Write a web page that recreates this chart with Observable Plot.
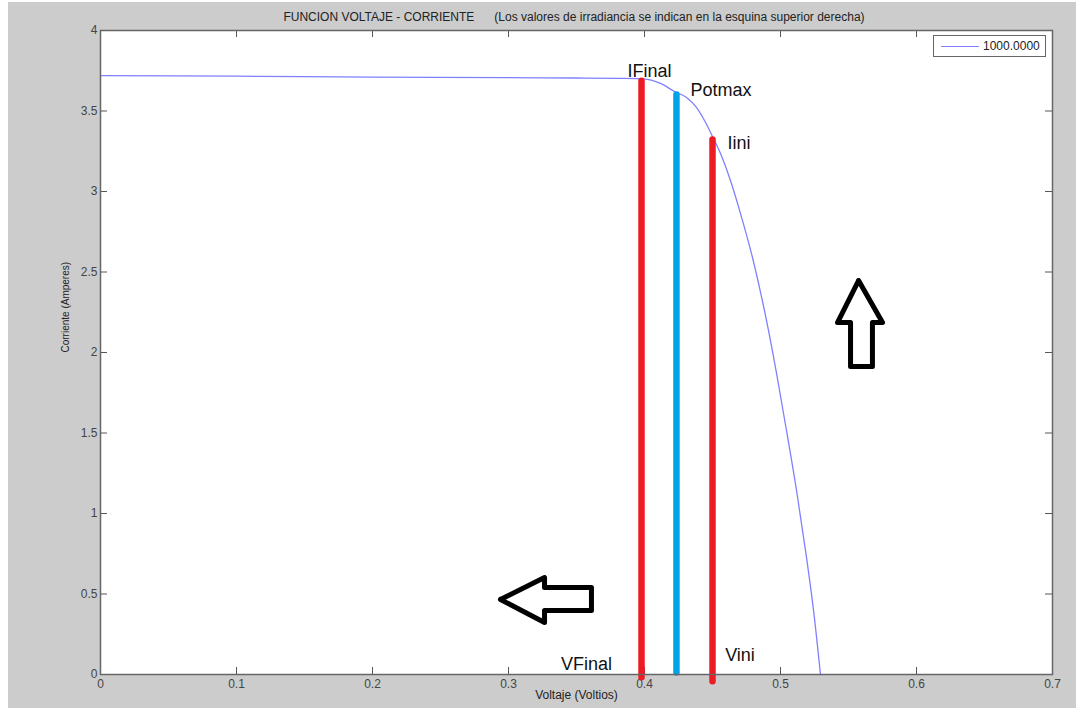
<!DOCTYPE html>
<html>
<head>
<meta charset="utf-8">
<script src="https://cdn.jsdelivr.net/npm/d3@7"></script>
<script src="https://cdn.jsdelivr.net/npm/@observablehq/plot@0.6"></script>
<style>
  body { margin: 0; background: #fff; }
  #wrap { position: relative; width: 1076px; height: 708px; background: #fff; overflow: hidden;
          font-family: "Liberation Sans", Arial, sans-serif; }
  #panel { position: absolute; left: 8px; top: 2px; right: 0; bottom: 0; background: #cccccc; }
  #title { position: absolute; top: 10px; left: 574px; transform: translateX(-50%);
           font-size: 12px; color: #222; white-space: pre; }
  #chart { position: absolute; left: 0; top: 24px; }
  #legend { position: absolute; left: 933px; top: 35px; width: 111px; height: 20px;
            background: #fff; border: 1px solid #666; }
  #legend .sw { position: absolute; left: 7px; top: 10px; width: 38px; height: 0;
                border-top: 1.5px solid #8080ff; }
  #legend .lb { position: absolute; left: 49px; top: 3px; font-size: 12px; color: #222; }
</style>
</head>
<body>
<div id="wrap">
  <div id="panel"></div>
  <div id="title"></div>
  <div id="chart"></div>
  <div id="legend"><div class="sw"></div><div class="lb"></div></div>
</div>
<script>
// ---- data ----
const titleText = "FUNCION VOLTAJE - CORRIENTE      (Los valores de irradiancia se indican en la esquina superior derecha)";
const xLabel = "Voltaje (Voltios)";
const yLabel = "Corriente (Amperes)";
const legendLabel = "1000.0000";

const xTicks = [0, 0.1, 0.2, 0.3, 0.4, 0.5, 0.6, 0.7];
const yTicks = [0, 0.5, 1, 1.5, 2, 2.5, 3, 3.5, 4];

// I-V curve (irradiance 1000)
const voltage = [0, 0.1, 0.2, 0.3, 0.35, 0.38, 0.3993, 0.4118, 0.4221, 0.4309, 0.4382, 0.4441, 0.45, 0.4559, 0.4632, 0.4706, 0.4794, 0.4897, 0.4971, 0.5044, 0.5118, 0.5184, 0.5243, 0.5294];
const current = [3.72, 3.716, 3.711, 3.707, 3.705, 3.703, 3.700, 3.671, 3.621, 3.584, 3.522, 3.441, 3.342, 3.236, 3.068, 2.863, 2.590, 2.199, 1.870, 1.516, 1.143, 0.770, 0.398, 0];

// vertical markers
const markerV = [0.3978, 0.4235, 0.45];
const markerTop = [3.685, 3.60, 3.32];
const markerBottom = [-0.02, 0.01, -0.045];
const markerColor = ["#ed1c24", "#00a2e8", "#ed1c24"];

// annotation labels
const labelText = ["IFinal", "Potmax", "Iini", "VFinal", "Vini"];
const labelV = [0.3875, 0.4338, 0.461, 0.3386, 0.4593];
const labelI = [3.744, 3.632, 3.297, 0.061, 0.117];

// outlined arrows (polygon vertices)
const leftArrowV = [0.2941, 0.3265, 0.3265, 0.3610, 0.3610, 0.3265, 0.3265, 0.2941];
const leftArrowI = [0.466, 0.602, 0.540, 0.540, 0.398, 0.398, 0.323, 0.466];
const upArrowV = [0.5574, 0.5750, 0.5676, 0.5676, 0.5515, 0.5515, 0.5419, 0.5574];
const upArrowI = [2.447, 2.186, 2.186, 1.913, 1.913, 2.186, 2.186, 2.447];

// ---- build tables ----
const curveData = voltage.map((v, i) => ({V: v, I: current[i]}));
const markers = markerV.map((v, i) => ({V: v, top: markerTop[i], bottom: markerBottom[i], color: markerColor[i]}));
const labels = labelText.map((t, i) => ({text: t, V: labelV[i], I: labelI[i]}));
const arrows = [
  ...leftArrowV.map((v, i) => ({shape: "left", V: v, I: leftArrowI[i]})),
  ...upArrowV.map((v, i) => ({shape: "up", V: v, I: upArrowI[i]}))
];

const W = 1076, H = 684, mL = 100, mR = 24, mT = 6, mB = 34;
const plotW = W - mL - mR, plotH = H - mT - mB;
const tickLen = 7;
const innerX = xTicks.slice(1, -1), innerY = yTicks.slice(1, -1);
const font = "Liberation Sans, Arial, sans-serif";

const chart = Plot.plot({
  width: W, height: H,
  marginLeft: mL, marginRight: mR, marginTop: mT, marginBottom: mB,
  x: {domain: [0, 0.7]},
  y: {domain: [0, 4]},
  color: {type: "identity"},
  style: {background: "transparent", overflow: "visible", fontFamily: font},
  marks: [
    Plot.frame({fill: "white"}),
    Plot.ruleX(innerX, {x: d => d, insetTop: plotH - tickLen, stroke: "#555"}),
    Plot.ruleX(innerX, {x: d => d, insetBottom: plotH - tickLen, stroke: "#555"}),
    Plot.ruleY(innerY, {y: d => d, insetRight: plotW - tickLen, stroke: "#555"}),
    Plot.ruleY(innerY, {y: d => d, insetLeft: plotW - tickLen, stroke: "#555"}),
    Plot.axisX({ticks: xTicks, tickSize: 0, tickPadding: 5, tickFormat: d => String(d), fontSize: 12, color: "#444", label: null}),
    Plot.axisY({ticks: yTicks, tickSize: 0, tickPadding: 3, tickFormat: d => String(d), fontSize: 12, color: "#444", label: null}),
    Plot.text([xLabel], {text: d => d, frameAnchor: "bottom", dy: 24, fontSize: 12, fill: "#222"}),
    Plot.text([yLabel], {text: d => d, frameAnchor: "left", dx: -35, rotate: -90, fontSize: 10, fill: "#222"}),
    Plot.line(curveData, {x: "V", y: "I", stroke: "#8080ff", strokeWidth: 1.3, curve: "monotone-x"}),
    Plot.ruleX(markers, {x: "V", y1: "bottom", y2: "top", stroke: "color", strokeWidth: 6.5, strokeLinecap: "round"}),
    Plot.text(labels, {x: "V", y: "I", text: "text", textAnchor: "start", fontSize: 18, fill: "#111"}),
    Plot.line(arrows, {x: "V", y: "I", z: "shape", stroke: "#000", strokeWidth: 5, strokeLinejoin: "round", strokeLinecap: "round"}),
    Plot.frame({stroke: "#666", strokeWidth: 1.5})
  ]
});

document.getElementById("chart").appendChild(chart);
document.getElementById("title").textContent = titleText;
document.querySelector("#legend .lb").textContent = legendLabel;
</script>
</body>
</html>
